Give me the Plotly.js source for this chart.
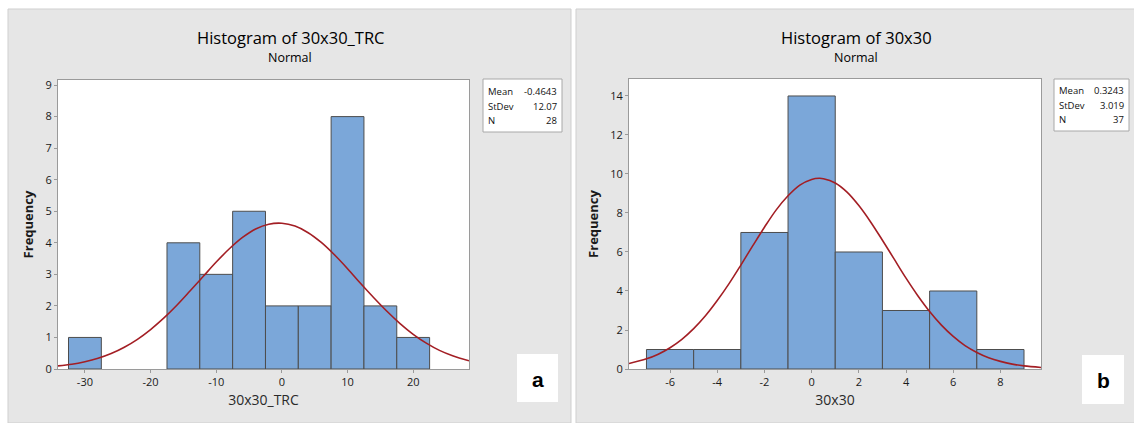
<!DOCTYPE html>
<html>
<head>
<meta charset="utf-8">
<script src="https://cdn.plot.ly/plotly-3.0.1.min.js"></script>
<style>html,body{margin:0;padding:0;background:#fff;}#chart{width:1134px;height:423px;}</style>
</head>
<body>
<div id="chart"></div>
<script>
// ---- Panel a: 30x30_TRC ----
var binCentersA = [-30, -15, -10, -5, 0, 5, 10, 15, 20];
var countsA = [1, 4, 3, 5, 2, 2, 8, 2, 1];
var binWidthA = 5;
var curveXA = [-34.1, -32, -30, -28, -26, -24, -22, -20, -18, -16, -14, -12, -10, -8, -6, -4, -2, 0, 2, 4, 6, 8, 10, 12, 14, 16, 18, 20, 22, 24, 26, 28.5];
var curveYA = [0.10, 0.15, 0.23, 0.34, 0.49, 0.69, 0.94, 1.25, 1.61, 2.02, 2.47, 2.93, 3.39, 3.81, 4.17, 4.44, 4.59, 4.62, 4.53, 4.32, 4.01, 3.62, 3.18, 2.71, 2.26, 1.83, 1.44, 1.10, 0.82, 0.59, 0.42, 0.26];
var statsA = {labels: ["Mean", "StDev", "N"], values: ["-0.4643", "12.07", "28"]};
var xTicksA = [-30, -20, -10, 0, 10, 20];
var yTicksA = [0, 1, 2, 3, 4, 5, 6, 7, 8, 9];

// ---- Panel b: 30x30 ----
var binCentersB = [-6, -4, -2, 0, 2, 4, 6, 8];
var countsB = [1, 1, 7, 14, 6, 3, 4, 1];
var binWidthB = 2;
var curveXB = [-7.74, -7, -6.5, -6, -5.5, -5, -4.5, -4, -3.5, -3, -2.5, -2, -1.5, -1, -0.5, 0, 0.32, 0.5, 1, 1.5, 2, 2.5, 3, 3.5, 4, 4.5, 5, 5.5, 6, 6.5, 7, 7.5, 8, 8.5, 9, 9.72];
var curveYB = [0.28, 0.52, 0.76, 1.09, 1.52, 2.07, 2.73, 3.51, 4.38, 5.33, 6.31, 7.27, 8.16, 8.88, 9.43, 9.72, 9.78, 9.76, 9.54, 9.07, 8.38, 7.54, 6.60, 5.63, 4.66, 3.76, 2.95, 2.25, 1.67, 1.20, 0.85, 0.58, 0.39, 0.25, 0.16, 0.08];
var statsB = {labels: ["Mean", "StDev", "N"], values: ["0.3243", "3.019", "37"]};
var xTicksB = [-6, -4, -2, 0, 2, 4, 6, 8];
var yTicksB = [0, 2, 4, 6, 8, 10, 12, 14];

var W = 1134, H = 423;
function px(x) { return x / W; }
function py(y) { return (H - y) / H; }

var barColor = "#7ba7d9", barLine = "#4d4d4d", curveColor = "#a31e24";
var FONT = "Open Sans, Noto Sans, sans-serif";

var traces = [
  {type: "bar", x: binCentersA, y: countsA, width: binWidthA, xaxis: "x", yaxis: "y",
   marker: {color: barColor, line: {color: barLine, width: 1}}, hoverinfo: "x+y"},
  {type: "scatter", mode: "lines", x: curveXA, y: curveYA, xaxis: "x", yaxis: "y",
   line: {color: curveColor, width: 1.6, shape: "spline"}},
  {type: "bar", x: binCentersB, y: countsB, width: binWidthB, xaxis: "x2", yaxis: "y2",
   marker: {color: barColor, line: {color: barLine, width: 1}}, hoverinfo: "x+y"},
  {type: "scatter", mode: "lines", x: curveXB, y: curveYB, xaxis: "x2", yaxis: "y2",
   line: {color: curveColor, width: 1.6, shape: "spline"}}
];

function axisCommon() {
  return {
    showgrid: false, zeroline: false, showline: true, linecolor: "#9a9a9a", linewidth: 1,
    mirror: true, ticks: "outside", ticklen: 3, tickcolor: "#9a9a9a", tickwidth: 1,
    tickfont: {family: FONT, size: 11, color: "#1a1a1a"}, fixedrange: true
  };
}

var xa = Object.assign(axisCommon(), {domain: [px(58), px(469)], range: [-34.1, 28.5], tickmode: "array",
  tickvals: xTicksA, ticktext: xTicksA.map(String), anchor: "y",
  title: {text: "30x30_TRC", font: {family: FONT, size: 14, color: "#2a2a2a"}, standoff: 6}});
var ya = Object.assign(axisCommon(), {domain: [py(369), py(80)], range: [0, 9.16], tickmode: "array",
  tickvals: yTicksA, ticktext: yTicksA.map(String), anchor: "x",
  title: {text: "<b>Frequency</b>", font: {family: FONT, size: 13, color: "#1a1a1a"}, standoff: 8}});
var xb = Object.assign(axisCommon(), {domain: [px(629), px(1041)], range: [-7.74, 9.72], tickmode: "array",
  tickvals: xTicksB, ticktext: xTicksB.map(String), anchor: "y2",
  title: {text: "30x30", font: {family: FONT, size: 14, color: "#2a2a2a"}, standoff: 6}});
var yb = Object.assign(axisCommon(), {domain: [py(369), py(79)], range: [0, 14.87], tickmode: "array",
  tickvals: yTicksB, ticktext: yTicksB.map(String), anchor: "x2",
  title: {text: "<b>Frequency</b>", font: {family: FONT, size: 13, color: "#1a1a1a"}, standoff: 8}});

var shapes = [
  {type: "rect", xref: "paper", yref: "paper", x0: px(8), x1: px(571), y0: 0, y1: py(9),
   fillcolor: "#e6e6e6", line: {color: "#cfcfcf", width: 1}, layer: "below"},
  {type: "rect", xref: "paper", yref: "paper", x0: px(576), x1: 1.01, y0: 0, y1: py(9),
   fillcolor: "#e6e6e6", line: {color: "#cfcfcf", width: 1}, layer: "below"},
  {type: "rect", xref: "x domain", yref: "y domain", x0: 0, x1: 1, y0: 0, y1: 1,
   fillcolor: "#ffffff", line: {width: 0}, layer: "below"},
  {type: "rect", xref: "x2 domain", yref: "y2 domain", x0: 0, x1: 1, y0: 0, y1: 1,
   fillcolor: "#ffffff", line: {width: 0}, layer: "below"},
  {type: "rect", xref: "paper", yref: "paper", x0: px(483), x1: px(562), y0: py(132), y1: py(79),
   fillcolor: "#ffffff", line: {color: "#a8a8a8", width: 1}, layer: "below"},
  {type: "rect", xref: "paper", yref: "paper", x0: px(1054), x1: px(1129), y0: py(131), y1: py(79),
   fillcolor: "#ffffff", line: {color: "#a8a8a8", width: 1}, layer: "below"},
  {type: "rect", xref: "paper", yref: "paper", x0: px(517), x1: px(558), y0: py(402), y1: py(354),
   fillcolor: "#ffffff", line: {width: 0}, layer: "below"},
  {type: "rect", xref: "paper", yref: "paper", x0: px(1082), x1: px(1124), y0: py(404), y1: py(355),
   fillcolor: "#ffffff", line: {width: 0}, layer: "below"}
];

var annotations = [
  {text: "Histogram of 30x30_TRC", x: px(290), y: py(37), xref: "paper", yref: "paper", showarrow: false,
   xanchor: "center", yanchor: "middle", font: {family: FONT, size: 16.5, color: "#000"}},
  {text: "Normal", x: px(290), y: py(58), xref: "paper", yref: "paper", showarrow: false,
   xanchor: "center", yanchor: "middle", font: {family: FONT, size: 12.5, color: "#000"}},
  {text: "Histogram of 30x30", x: px(856), y: py(37), xref: "paper", yref: "paper", showarrow: false,
   xanchor: "center", yanchor: "middle", font: {family: FONT, size: 16.5, color: "#000"}},
  {text: "Normal", x: px(856), y: py(58), xref: "paper", yref: "paper", showarrow: false,
   xanchor: "center", yanchor: "middle", font: {family: FONT, size: 12.5, color: "#000"}},
  {text: "<b>a</b>", x: px(537.5), y: py(379), xref: "paper", yref: "paper", showarrow: false,
   xanchor: "center", yanchor: "middle", font: {family: "Liberation Sans, Arial, sans-serif", size: 21, color: "#000"}},
  {text: "<b>b</b>", x: px(1103), y: py(380), xref: "paper", yref: "paper", showarrow: false,
   xanchor: "center", yanchor: "middle", font: {family: "Liberation Sans, Arial, sans-serif", size: 21, color: "#000"}}
];

function addStats(stats, xl, xr, ys) {
  for (var i = 0; i < stats.labels.length; i++) {
    annotations.push({text: stats.labels[i], x: px(xl), y: py(ys[i]), xref: "paper", yref: "paper",
      showarrow: false, xanchor: "left", yanchor: "middle", font: {family: FONT, size: 9.5, color: "#111"}});
    annotations.push({text: stats.values[i], x: px(xr), y: py(ys[i]), xref: "paper", yref: "paper",
      showarrow: false, xanchor: "right", yanchor: "middle", font: {family: FONT, size: 9.5, color: "#111"}});
  }
}
addStats(statsA, 486, 559, [92, 106, 121]);
addStats(statsB, 1057, 1126, [91, 105, 120]);

var layout = {
  width: W, height: H, margin: {l: 0, r: 0, t: 0, b: 0},
  paper_bgcolor: "#ffffff", plot_bgcolor: "rgba(0,0,0,0)",
  showlegend: false, bargap: 0,
  xaxis: xa, yaxis: ya, xaxis2: xb, yaxis2: yb,
  shapes: shapes, annotations: annotations,
  font: {family: FONT}
};

Plotly.newPlot("chart", traces, layout, {staticPlot: true, displayModeBar: false});
</script>
</body>
</html>
